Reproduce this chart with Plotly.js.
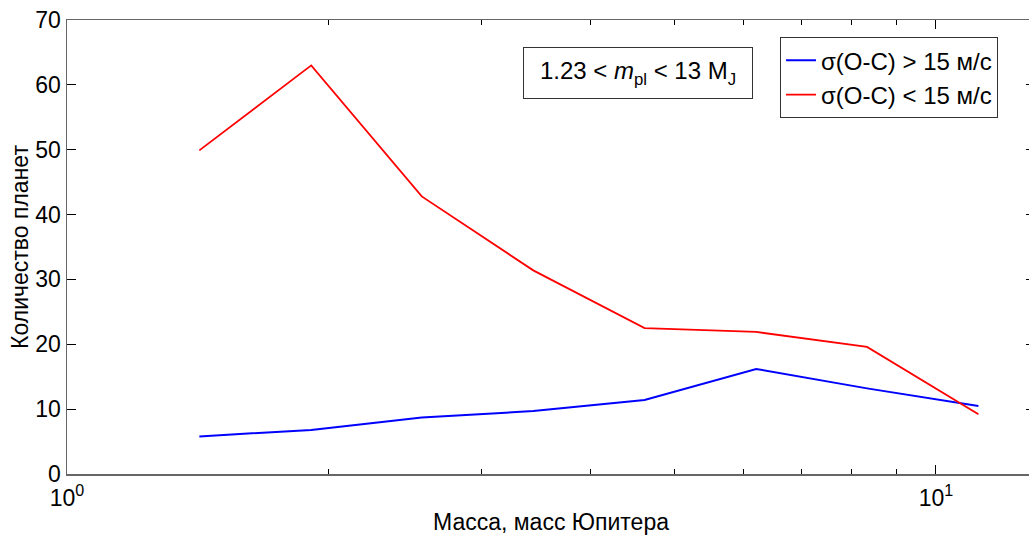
<!DOCTYPE html>
<html>
<head>
<meta charset="utf-8">
<script src="https://cdn.plot.ly/plotly-3.0.1.min.js"></script>
<style>
html,body{margin:0;padding:0;overflow:hidden;background:#fff;}
#chart{width:1035px;height:535px;}
</style>
</head>
<body>
<div id="chart"></div>
<script>
// Planet mass bin centers (Jupiter masses)
const massBins = [1.42, 1.91, 2.56, 3.44, 4.62, 6.21, 8.33, 11.19];
// Number of planets, sigma(O-C) > 15 m/s
const countHigh = [5.8, 6.8, 8.7, 9.7, 11.4, 16.2, 13.2, 10.5];
// Number of planets, sigma(O-C) < 15 m/s
const countLow = [49.9, 63.0, 42.8, 31.4, 22.5, 21.9, 19.6, 9.2];

const seriesNames = ['σ(O-C) > 15 м/с', 'σ(O-C) < 15 м/с'];
const xTickVals = [1, 10];
const xTickText = ['10<sup>0</sup>', '10<sup>1</sup>'];
const xMinorVals = [2, 3, 4, 5, 6, 7, 8, 9];
const yTickVals = [0, 10, 20, 30, 40, 50, 60, 70];

const fam = 'Liberation Sans, Arial, sans-serif';

const traces = [
  {x: massBins, y: countHigh, name: seriesNames[0], type: 'scatter', mode: 'lines',
   line: {color: '#0000ff', width: 2}},
  {x: massBins, y: countLow, name: seriesNames[1], type: 'scatter', mode: 'lines',
   line: {color: '#ff0000', width: 1.8}}
];

const layout = {
  width: 1035, height: 535,
  margin: {l: 67, r: 0, t: 20, b: 61},
  paper_bgcolor: '#fff', plot_bgcolor: '#fff',
  font: {family: fam, size: 22, color: '#000'},
  showlegend: true,
  xaxis: {
    type: 'log', range: [0, Math.log10(13)],
    tickmode: 'array', tickvals: xTickVals, ticktext: xTickText,
    ticks: 'inside', ticklen: 9, tickcolor: '#000', tickwidth: 1,
    minor: {tickmode: 'array', tickvals: xMinorVals, ticks: 'inside', ticklen: 5, tickcolor: '#000', showgrid: false},
    showline: true, linecolor: '#666', linewidth: 1.5, mirror: 'ticks',
    showgrid: false, zeroline: false,
    ticklabelstandoff: 3,
    tickfont: {family: fam, size: 23, color: '#000'},
    title: {text: 'Масса, масс Юпитера', font: {family: fam, size: 23, color: '#000'}, standoff: 8}
  },
  yaxis: {
    range: [0, 70],
    tickmode: 'array', tickvals: yTickVals,
    ticks: 'inside', ticklen: 9, tickcolor: '#000', tickwidth: 1,
    showline: true, linecolor: '#666', linewidth: 1.5, mirror: 'ticks',
    showgrid: false, zeroline: false,
    tickfont: {family: fam, size: 23, color: '#000'},
    title: {text: 'Количество планет', font: {family: fam, size: 23, color: '#000'}, standoff: 0}
  },
  legend: {
    x: 0.7366, y: 0.962, xanchor: 'left', yanchor: 'top',
    bgcolor: '#fff', bordercolor: '#333', borderwidth: 1,
    font: {family: fam, size: 24, color: '#000'},
    tracegroupgap: 0, itemwidth: 30
  },
  annotations: [{
    xref: 'paper', yref: 'paper', x: 0.59, y: 0.883, xanchor: 'center', yanchor: 'middle',
    text: '1.23 &lt; <i>m</i><sub>pl</sub> &lt; 13 M<sub>J</sub>',
    showarrow: false, font: {family: fam, size: 24, color: '#000'},
    bordercolor: '#333', borderwidth: 1, borderpad: 5, bgcolor: '#fff',
    width: 218, height: 40, align: 'center'
  }]
};

Plotly.newPlot('chart', traces, layout, {displayModeBar: false, staticPlot: true});
</script>
</body>
</html>
